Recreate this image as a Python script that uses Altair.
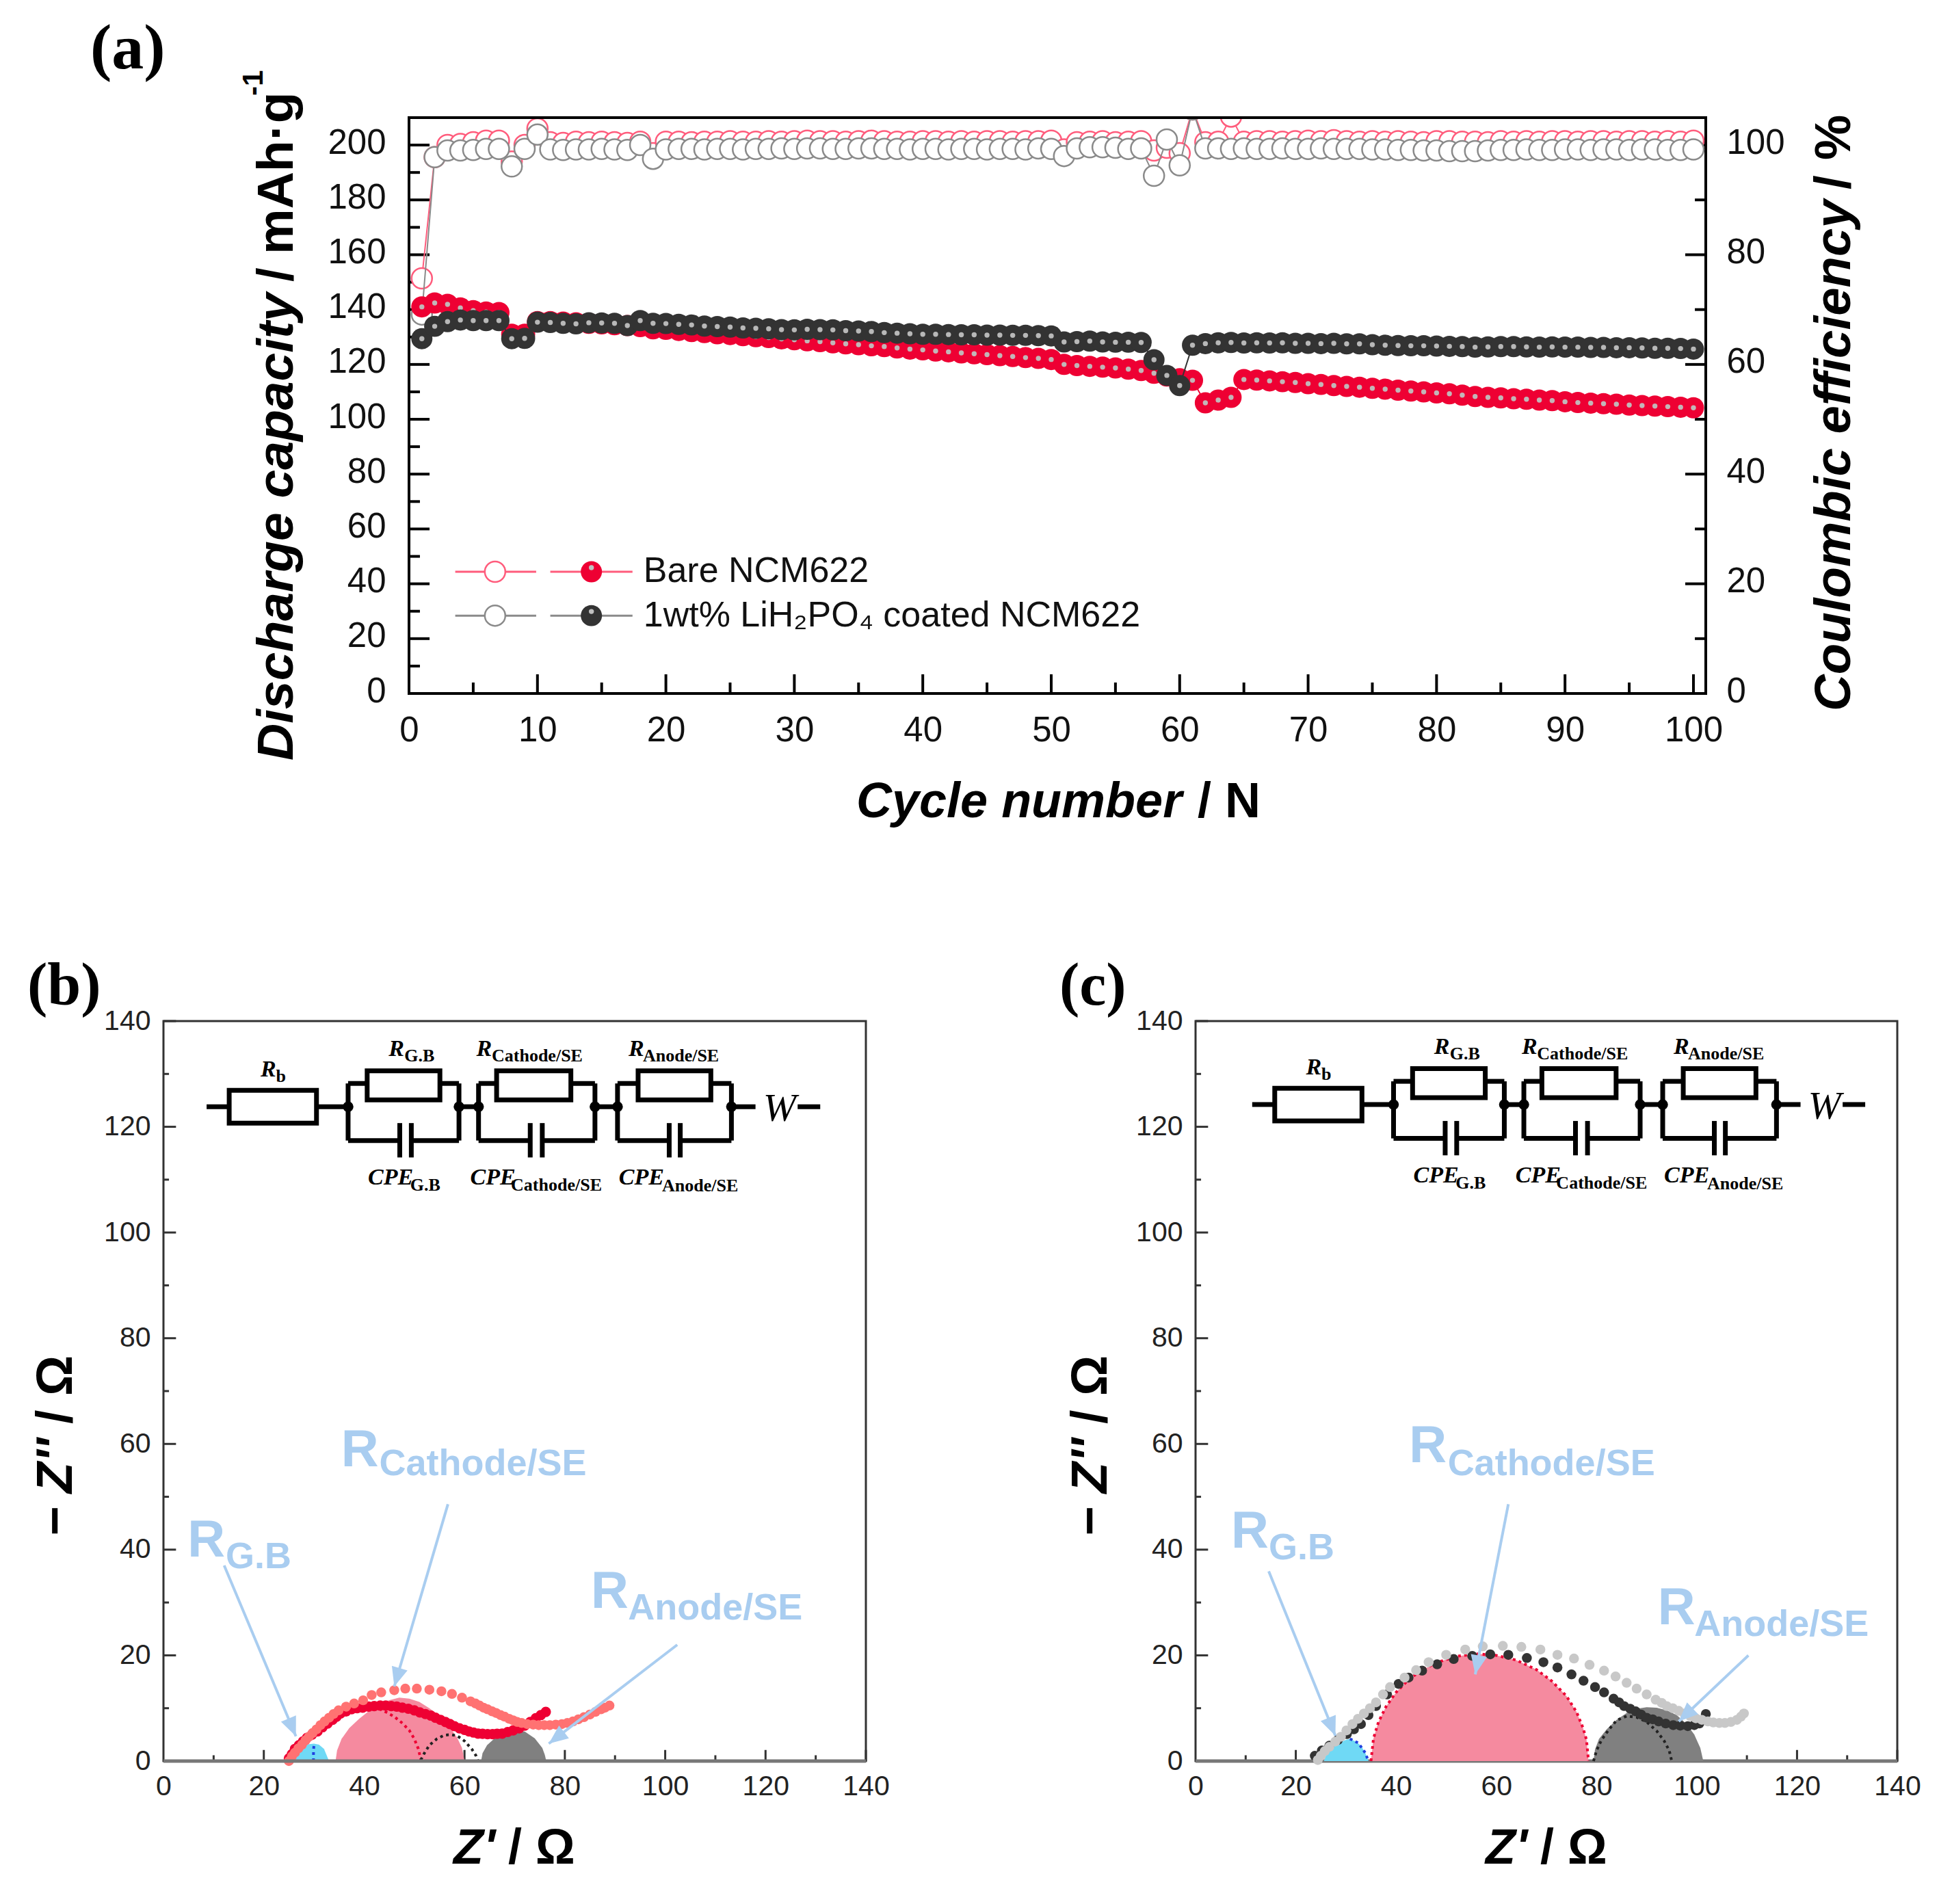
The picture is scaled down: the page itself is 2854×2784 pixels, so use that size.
import math
import altair as alt
import pandas as pd

W, H = 2838, 2768
M = 8

# ---------- panel (a) data ----------
cycle = list(range(1, 101))
cap_bare = [141, 142.4, 141.9, 140.6, 139.6, 139.1, 138.9, 131, 131, 135.6,
            135.6, 135.4, 135.2, 135, 134.8, 134.5, 134.2, 133.8, 133, 132.8,
            132.4, 132, 131.6, 131.2, 130.9, 130.5, 130.1, 129.8, 129.3, 129,
            128.6, 128.3, 127.9, 127.5, 127.2, 126.8, 126.5, 126, 125.6, 125.3,
            124.9, 124.6, 124.2, 123.9, 123.6, 123.2, 122.9, 122.5, 122.2, 121.8,
            120, 119.6, 119.3, 119, 118.7, 118.3, 117.8, 116.8, 115.8, 114.8,
            114.2, 106, 107, 108, 114.5, 114.3, 114, 113.7, 113.4, 113,
            112.7, 112.3, 112, 111.7, 111.3, 111, 110.6, 110.3, 110, 109.6,
            109.3, 108.8, 108.3, 108, 107.8, 107.5, 107.3, 107, 106.8, 106.4,
            106.1, 105.9, 105.7, 105.5, 105.2, 105, 104.8, 104.6, 104.4, 104.2]
cap_coated = [129.4, 133.9, 135.6, 136.2, 136, 136, 136, 129.4, 129.5, 135.4,
              135.3, 135, 134.8, 135.2, 135.1, 135, 134.2, 136, 135, 134.9,
              134.6, 134.4, 134, 133.8, 133.6, 133.3, 133.2, 133, 132.7, 132.6,
              132.8, 132.7, 132.6, 132.3, 132.2, 132, 131.6, 131.4, 131.2, 131,
              131, 130.9, 130.8, 130.8, 130.7, 130.7, 130.6, 130.6, 130.5, 130.4,
              128.2, 128.3, 128.5, 128.2, 128.1, 128.1, 128, 121.7, 116, 112.3,
              127, 127.6, 127.9, 128, 127.8, 127.9, 127.8, 127.9, 127.7, 127.7,
              127.6, 127.7, 127.5, 127.5, 127.2, 127, 126.9, 126.8, 126.8, 126.7,
              126.6, 126.5, 126.3, 126.4, 126.5, 126.5, 126.4, 126.3, 126.4, 126.3,
              126.3, 126.2, 126.2, 126.1, 126.1, 126, 125.9, 125.9, 125.8, 125.6]
ce_bare = [75.7, 97.8, 100.0, 100.2, 100.5, 100.8, 100.8, 97.0, 100.0, 103.0,
           100.5, 100.4, 100.6, 100.5, 100.6, 100.5, 100.4, 100.6, 98.5, 100.6,
           100.6, 100.5, 100.6, 100.6, 100.7, 100.6, 100.6, 100.7, 100.6, 100.7,
           100.8, 100.7, 100.7, 100.6, 100.7, 100.8, 100.7, 100.6, 100.6, 100.7,
           100.7, 100.6, 100.7, 100.6, 100.7, 100.7, 100.6, 100.7, 100.7, 100.8,
           99.2, 100.5, 100.6, 100.7, 100.5, 100.6, 100.7, 99.0, 99.5, 98.5,
           106.5, 100.5, 100.6, 105.2, 100.6, 100.7, 100.7, 100.6, 100.7, 100.8,
           100.7, 100.9, 100.7, 100.6, 100.7, 100.6, 100.7, 100.6, 100.5, 100.7,
           100.7, 100.6, 100.6, 100.5, 100.7, 100.6, 100.7, 100.6, 100.7, 100.7,
           100.6, 100.7, 100.7, 100.6, 100.7, 100.7, 100.6, 100.7, 100.6, 100.8]
ce_coated = [69.1, 97.8, 99.0, 99.0, 99.1, 99.3, 99.3, 96.1, 99.3, 101.9,
             99.2, 99.1, 99.2, 99.2, 99.3, 99.2, 99.1, 100.0, 97.5, 99.2,
             99.3, 99.3, 99.2, 99.3, 99.3, 99.2, 99.3, 99.3, 99.4, 99.3,
             99.4, 99.4, 99.3, 99.3, 99.4, 99.4, 99.3, 99.3, 99.2, 99.3,
             99.3, 99.2, 99.3, 99.3, 99.2, 99.3, 99.3, 99.2, 99.4, 99.3,
             98.0, 99.4, 99.6, 99.6, 99.5, 99.3, 99.4, 94.4, 101.0, 96.3,
             106.5, 99.4, 99.4, 99.3, 99.4, 99.3, 99.3, 99.4, 99.3, 99.3,
             99.4, 99.3, 99.3, 99.3, 99.2, 99.2, 99.1, 99.1, 99.0, 99.0,
             98.9, 98.9, 98.9, 99.0, 99.1, 99.1, 99.2, 99.1, 99.1, 99.2,
             99.2, 99.1, 99.2, 99.2, 99.1, 99.2, 99.2, 99.1, 99.1, 99.2]

# ---------- panel (b) data ----------
b_fresh_x = [25, 25.6, 26.2, 26.9, 27.6, 28.3, 29, 29.7, 30.5, 31.3, 32.1, 33, 33.9, 34.9, 36.4, 38, 39.8, 41.5, 43.4, 46, 48.2, 50.5, 53, 55.4, 57.5, 59.5, 61.2, 62.2, 63, 63.8, 64.6, 65.5, 66.3, 67.2, 68, 68.9, 69.7, 70.5, 71.4, 72.5, 73.7, 74.8, 75.9, 77, 78.2, 79.4, 80.5, 81.6, 82.7, 83.8, 85, 86.1, 87.2, 88, 88.9]
b_fresh_y = [0, .9, 1.6, 2.4, 3.1, 3.9, 4.6, 5.3, 6, 6.8, 7.5, 8.2, 8.9, 9.6, 10.3, 10.9, 11.5, 12.5, 13, 13.4, 13.7, 13.7, 13.5, 13.2, 12.7, 12, 11.3, 10.9, 10.5, 10.1, 9.8, 9.4, 9.1, 8.7, 8.4, 8, 7.7, 7.4, 7.2, 7, 6.9, 6.8, 6.8, 6.8, 6.9, 7, 7.2, 7.5, 7.9, 8.3, 8.8, 9.3, 9.8, 10.1, 10.5]
b_dark_x = [25, 25.6, 26.2, 27, 27.8, 28.6, 29.6, 30.7, 31.7, 32.7, 33.7, 34.5, 35.3, 36.4, 37.5, 38.6, 39.7, 40.9, 42, 43.2, 44.3, 45.4, 46.5, 47.6, 48.8, 50, 51.1, 52.2, 53.3, 54.2, 55.2, 56.2, 57.1, 58, 59, 60, 60.9, 61.8, 62.7, 63.6, 64.6, 65.6, 66.5, 67.5, 68.6, 69.7, 70.9, 72, 73.1, 74.2, 75.2, 76.2]
b_dark_y = [.5, 1.3, 2.3, 3, 3.7, 4.4, 5, 5.6, 6.4, 7.1, 7.8, 8.4, 9, 9.4, 9.8, 10, 10.1, 10.3, 10.4, 10.5, 10.5, 10.4, 10.3, 10.1, 9.9, 9.6, 9.2, 8.9, 8.6, 8.2, 7.8, 7.4, 7, 6.6, 6.2, 5.9, 5.6, 5.4, 5.2, 5.15, 5.1, 5.1, 5.15, 5.2, 5.5, 5.8, 6.2, 6.7, 7.4, 8.1, 8.7, 9.3]
b_cyan_x = [24.5, 25, 26, 27, 28, 29, 30, 31, 32, 33]
b_cyan_y = [0, 1.2, 2, 2.6, 3, 3.2, 3.3, 3.1, 2.3, 0]
b_pink_x = [34.3, 34.6, 35.5, 37, 39, 41, 43, 45, 47, 49, 51, 53, 55, 57, 58.5, 59.5, 60]
b_pink_y = [0, 2, 4.2, 6.2, 8, 9.5, 10.6, 11.5, 12, 11.8, 11.2, 10, 8.6, 6.5, 4.5, 2.5, 0]
b_gray_x = [63.3, 63.6, 64.5, 66, 68, 70, 72, 74, 75.5, 76, 76.3]
b_gray_y = [0, 1.5, 3, 4.3, 5.4, 5.9, 5.6, 4.3, 2.5, 1.2, 0]
b_red_dot_x = [43, 44.3, 46, 47.7, 49, 50, 50.8, 51.3]
b_red_dot_y = [9.9, 9.3, 8.4, 7.1, 5.8, 4.2, 2.3, 0.3]
b_blk_dot_x = [51.3, 52, 53, 54.5, 56, 57.3, 58.5, 60, 61.5, 62.3, 62.7]
b_blk_dot_y = [0.2, 1.5, 3, 4.2, 4.9, 5, 4.8, 3.8, 2.2, 1, 0]
b_blu_dot_x = [29.9, 29.9, 29.9, 30]
b_blu_dot_y = [0, 1, 2, 3]

# ---------- panel (c) data ----------
c_fresh_x = [24.4, 25, 25.8, 26.7, 27.9, 29, 30.1, 31.3, 32.4, 33.6, 34.8, 36, 37.4, 38.8, 41.7, 44, 46.5, 50, 53.8, 57.3, 61.3, 65, 68.8, 72.2, 75.5, 78.6, 81.5, 83.8, 86, 88, 90, 91.8, 93, 94, 95.2, 96.4, 97.5, 98.7, 99.8, 101, 102.2, 103.3, 104.5, 105.6, 106.8, 108, 108.8, 109.4]
c_fresh_y = [.2, 1, 1.9, 2.7, 3.7, 4.6, 5.8, 7, 8, 9, 10, 11.1, 12.6, 14, 15.8, 17.2, 18.7, 20.1, 21.1, 21.7, 21.8, 21.6, 21.1, 20.1, 19.4, 18.2, 17.1, 16, 14.8, 13.7, 12.6, 11.6, 11, 10.4, 10, 9.5, 9, 8.5, 8.1, 7.8, 7.5, 7.3, 7.2, 7.2, 7.4, 7.8, 8.4, 9]
c_dark_x = [23.8, 25.2, 26.7, 28.4, 30.2, 31.6, 33, 34.5, 36, 38.2, 40.5, 42.5, 45.2, 48.2, 51.5, 55.2, 58.8, 62.4, 66.1, 69.4, 72.2, 75, 77.4, 79.7, 81.5, 83.4, 84.5, 85.5, 86.7, 87.8, 88.9, 90, 91.2, 92.4, 93.8, 95.3, 96.7, 98.2, 99.5, 100.5, 101.8]
c_dark_y = [1, 2, 2.9, 4, 5.1, 6, 7, 8.7, 10.4, 12.6, 14.6, 15.8, 17.1, 18.3, 19.3, 19.9, 20.2, 20.1, 19.5, 18.7, 17.7, 16.4, 15.2, 14, 13, 11.8, 11.1, 10.4, 9.9, 9.4, 8.8, 8.2, 7.9, 7.5, 7.1, 6.8, 6.7, 6.6, 6.8, 7.1, 8.9]
c_cyan_x = [25.6, 26, 27, 28, 29, 30, 30.8, 32, 33, 33.9, 34.5]
c_cyan_y = [0, 1, 2.2, 3, 3.6, 4, 4.2, 3.7, 2.9, 1.5, 0]
c_pink_x = [35, 35.5, 36.5, 38, 40, 42.5, 45, 48, 52, 56, 60, 64, 68, 71, 74, 76, 77.3, 78, 78.4]
c_pink_y = [0, 4.3, 7.4, 10.3, 13, 15.4, 17.1, 18.6, 19.8, 20.3, 20, 19.1, 17.3, 15.2, 12.3, 9.3, 6.3, 4, 0]
c_gray_x = [79.4, 79.7, 80.5, 82, 84, 86, 88, 90, 92, 94, 96, 98, 99.5, 100.7, 101.3]
c_gray_y = [0, 2.2, 4.2, 6, 7.8, 9.1, 9.9, 10.2, 10.1, 9.6, 8.7, 7, 5, 2.5, 0]
c_blu_dot_x = [30.8, 32.5, 33.9, 34.4]
c_blu_dot_y = [4.2, 3.4, 1.5, 0.2]
c_blk_dot_x = [79.4, 80, 81, 82.5, 84, 86, 88, 90, 92, 93.5, 94.5, 95]
c_blk_dot_y = [0, 2, 4, 6, 7.7, 8.5, 8.3, 7.4, 5.7, 3.8, 2, 0]

RED, DARK, OPEN_RED, OPEN_GRAY = "#ee0033", "#333333", "#ff5c7c", "#8a8a8a"
SALMON, LGRAY = "#ff7272", "#c8c8c8"
CYAN, PINK, MGRAY = "#6fd9f5", "#f58a9f", "#808080"
ABLUE = "#a9cdf0"
SPOT = "#c0c0c0"
SANS, SERIF = "Liberation Sans", "Liberation Serif"


class P:
    def __init__(s, xd, xr, yd, yr):
        s.xd, s.xr, s.yd, s.yr = xd, [v - M for v in xr], yd, [v - M for v in yr]

    def sx(s):
        return alt.Scale(domain=s.xd, range=s.xr, nice=False, zero=False)

    def sy(s, yd=None):
        return alt.Scale(domain=yd or s.yd, range=s.yr, nice=False, zero=False)

    def X(s, f="x", axis=None):
        return alt.X(f + ":Q", scale=s.sx(), axis=axis)

    def Y(s, f="y", axis=None, yd=None):
        return alt.Y(f + ":Q", scale=s.sy(yd), axis=axis)

    def px(s, x):
        return s.xr[0] + (x - s.xd[0]) / (s.xd[1] - s.xd[0]) * (s.xr[1] - s.xr[0])

    def py(s, y):
        return s.yr[0] + (y - s.yd[0]) / (s.yd[1] - s.yd[0]) * (s.yr[1] - s.yr[0])


PA = P([0, 100.96], [598, 2494], [0, 210], [1014, 172])
PB = P([0, 140], [239, 1266], [0, 140], [2575, 1493])
PC = P([0, 140], [1748, 2774], [0, 140], [2575, 1493])
RIGHT_DOM = [0, 105]

layers = []


def axis_x(p, vals, size, pad, color="#111111"):
    return alt.Axis(values=vals, orient="bottom", offset=p.yr[0] - H, title=None, grid=False, domain=False,
                    ticks=False, labelFont=SANS, labelFontSize=size, labelPadding=pad, labelColor=color,
                    labelFlush=False, labelOverlap=False, format="d")


def axis_y(p, vals, size, pad, orient="left", color="#111111", loff=0):
    off = -p.xr[0] if orient == "left" else p.xr[1] - W
    return alt.Axis(values=vals, orient=orient, offset=off, title=None, grid=False, domain=False, ticks=False,
                    labelFont=SANS, labelFontSize=size, labelPadding=pad, labelColor=color, labelFlush=False,
                    labelOverlap=False, format="d", labelOffset=loff)


def frame(p, stroke, sw, x_vals, y_vals, size, xpad, ypad, color="#111111", loff=0):
    df = pd.DataFrame({"x": [p.xd[0]], "x2": [p.xd[1]], "y": [p.yd[0]], "y2": [p.yd[1]]})
    return alt.Chart(df).mark_rect(fillOpacity=0, stroke=stroke, strokeWidth=sw).encode(
        x=p.X("x", axis_x(p, x_vals, size, xpad, color)), x2="x2:Q",
        y=p.Y("y", axis_y(p, y_vals, size, ypad, "left", color, loff)), y2="y2:Q")


def xticks(p, vals, length, sw, color="black"):
    df = pd.DataFrame({"x": vals, "y": [p.yd[0]] * len(vals), "y2": [p.yd[0] + length] * len(vals)})
    return alt.Chart(df).mark_rule(color=color, strokeWidth=sw).encode(x=p.X(), y=p.Y(), y2="y2:Q")


def yticks(p, vals, length, sw, side="left", color="black", yd=None):
    x0 = p.xd[0] if side == "left" else p.xd[1]
    x1 = x0 + length if side == "left" else x0 - length
    df = pd.DataFrame({"x": [x0] * len(vals), "x2": [x1] * len(vals), "y": vals})
    return alt.Chart(df).mark_rule(color=color, strokeWidth=sw).encode(x=p.X(), x2="x2:Q", y=p.Y(yd=yd))


def label(text, xpx, ypx, size, color="black", italic=False, bold=False, angle=0, font=SANS, align="left"):
    kw = dict(fontSize=size, color=color, font=font, align=align, baseline="alphabetic",
              fontStyle="italic" if italic else "normal", fontWeight="bold" if bold else "normal")
    if angle:
        kw["angle"] = angle
    return alt.Chart(pd.DataFrame({"t": [text]})).mark_text(**kw).encode(
        x=alt.value(xpx - M), y=alt.value(ypx - M), text="t:N")


def dlabel(p, text, x, y, size, **kw):
    return label(text, p.px(x) + M, p.py(y) + M, size, **kw)


def area(p, xs, ys, color, opacity=1):
    df = pd.DataFrame({"x": xs, "y": ys})
    return alt.Chart(df).mark_area(color=color, opacity=opacity, line=False).encode(
        x=p.X(), y=p.Y(), y2=alt.datum(0))


def dotted(p, xs, ys, color):
    df = pd.DataFrame({"x": xs, "y": ys})
    return alt.Chart(df).mark_line(color=color, strokeWidth=4, strokeDash=[4, 5]).encode(x=p.X(), y=p.Y())


def pts(p, xs, ys, color, size=180):
    df = pd.DataFrame({"x": xs, "y": ys})
    return alt.Chart(df).mark_point(filled=True, color=color, size=size, opacity=1, shape="circle").encode(
        x=p.X(), y=p.Y())


def arrow(p, x0, y0, x1, y1):
    df = pd.DataFrame({"x": [x0], "x2": [x1], "y": [y0], "y2": [y1]})
    line = alt.Chart(df).mark_rule(color=ABLUE, strokeWidth=4).encode(x=p.X(), x2="x2:Q", y=p.Y(), y2="y2:Q")
    dx, dy = p.px(x1) - p.px(x0), p.py(y1) - p.py(y0)
    ang = math.degrees(math.atan2(dx, -dy)) % 360
    head = alt.Chart(pd.DataFrame({"x": [x1], "y": [y1]})).mark_point(
        filled=True, color=ABLUE, opacity=1, size=784, angle=ang,
        shape="M0,0L0.85,2L-0.85,2Z").encode(x=p.X(), y=p.Y())
    return [line, head]


def circuit(p, dx, dy):
    out = []
    box_rows = [(13.1, 30.5, 120.7, 126.9), (40.6, 55.1, 125.1, 130.6), (66.4, 81.2, 125.1, 130.6), (94.6, 109.1, 125.1, 130.6)]
    df = pd.DataFrame(box_rows, columns=["x", "x2", "y", "y2"])
    df[["x", "x2"]] += dx
    df[["y", "y2"]] += dy
    out.append(alt.Chart(df).mark_rect(fillOpacity=0, stroke="black", strokeWidth=7).encode(
        x=p.X(), x2="x2:Q", y=p.Y(), y2="y2:Q"))
    segs = [(8.6, 123.8, 13.1, 123.8), (30.5, 123.8, 36.8, 123.8), (58.9, 123.8, 62.8, 123.8),
            (86, 123.8, 90.5, 123.8), (113.2, 123.8, 118, 123.8), (126.4, 123.8, 130.9, 123.8)]
    for a, b, r0, r1, c0, c1 in [(36.8, 58.9, 40.6, 55.1, 47.1, 49.4), (62.8, 86, 66.4, 81.2, 73.1, 75.5),
                                 (90.5, 113.2, 94.6, 109.1, 100.8, 103)]:
        segs += [(a, 117.4, a, 128.2), (b, 117.4, b, 128.2), (a, 128.2, r0, 128.2), (r1, 128.2, b, 128.2),
                 (a, 117.4, c0, 117.4), (c1, 117.4, b, 117.4), (c0, 114.2, c0, 120.7), (c1, 114.2, c1, 120.7)]
    df = pd.DataFrame(segs, columns=["x", "y", "x2", "y2"])
    df[["x", "x2"]] += dx
    df[["y", "y2"]] += dy
    out.append(alt.Chart(df).mark_rule(color="black", strokeWidth=7).encode(x=p.X(), x2="x2:Q", y=p.Y(), y2="y2:Q"))
    nodes = pd.DataFrame({"x": [36.8 + dx, 58.9 + dx, 62.8 + dx, 86 + dx, 90.5 + dx, 113.2 + dx], "y": [123.8 + dy] * 6})
    out.append(alt.Chart(nodes).mark_point(filled=True, color="black", opacity=1, size=240, shape="circle").encode(x=p.X(), y=p.Y()))
    z = lambda zx: (zx / 1.425 - 39) / 7.34 + dx
    w = lambda zy: (1125 - zy / 3) / 7.72 + dy
    for t, zx, zy, sub, szx, szy in [
        ("R", 258, 375, "b", 290, 400), ("R", 525, 285, "G.B", 558, 310),
        ("R", 708, 285, "Cathode/SE", 740, 310), ("R", 1025, 285, "Anode/SE", 1055, 310),
        ("CPE", 482, 850, "G.B", 570, 875), ("CPE", 695, 850, "Cathode/SE", 780, 875),
        ("CPE", 1005, 850, "Anode/SE", 1095, 880)]:
        out.append(dlabel(p, t, z(zx), w(zy), 34, italic=True, bold=True, font=SERIF))
        out.append(dlabel(p, sub, z(szx), w(szy), 26, bold=True, font=SERIF))
    out.append(dlabel(p, "W", 122.8 + dx, 121.1 + dy, 58, italic=True, font=SERIF, align="center"))
    return out


# ---------- panel (a) ----------
layers.append(frame(PA, "black", 4, list(range(0, 101, 10)), list(range(0, 201, 20)), 51, 29, 34, loff=-3))
layers.append(xticks(PA, list(range(10, 101, 10)), 7, 4))
layers.append(xticks(PA, list(range(5, 96, 10)), 4, 4))
layers.append(yticks(PA, list(range(20, 201, 20)), 1.6, 4))
layers.append(yticks(PA, list(range(10, 201, 20)), 0.85, 4))
rdf = pd.DataFrame({"x": [PA.xd[1]] * 6, "x2": [PA.xd[1] - 1.6] * 6, "y": list(range(0, 101, 20))})
layers.append(alt.Chart(rdf).mark_rule(color="black", strokeWidth=4).encode(
    x=PA.X(), x2="x2:Q",
    y=PA.Y(axis=axis_y(PA, list(range(0, 101, 20)), 51, 30, "right", loff=-3), yd=RIGHT_DOM)))
layers.append(yticks(PA, list(range(10, 101, 20)), 0.85, 4, side="right", yd=RIGHT_DOM))

for values, col in [(ce_bare, OPEN_RED), (ce_coated, OPEN_GRAY)]:
    df = pd.DataFrame({"x": cycle, "y": values})
    layers.append(alt.Chart(df).mark_line(color=col, strokeWidth=2).encode(x=PA.X(), y=PA.Y(yd=RIGHT_DOM)))
    layers.append(alt.Chart(df).mark_point(shape="circle", size=900, fill="white", fillOpacity=1, stroke=col, strokeWidth=2.5, opacity=1).encode(
        x=PA.X(), y=PA.Y(yd=RIGHT_DOM)))
# mask above the frame: points past the axis top are cut off there
mask = pd.DataFrame({"x": [PA.xd[0]], "x2": [PA.xd[1] + 1], "y": [210.5], "y2": [225]})
layers.append(alt.Chart(mask).mark_rect(color="white").encode(x=PA.X(), x2="x2:Q", y=PA.Y(), y2="y2:Q"))
layers.append(alt.Chart(pd.DataFrame({"x": [PA.xd[0]], "x2": [PA.xd[1]], "y": [210]})).mark_rule(color="black", strokeWidth=4).encode(
    x=PA.X(), x2="x2:Q", y=PA.Y()))
for values, col in [(cap_bare, RED), (cap_coated, DARK)]:
    df = pd.DataFrame({"x": cycle, "y": values})
    layers.append(alt.Chart(df).mark_line(color=col, strokeWidth=2).encode(x=PA.X(), y=PA.Y()))
    layers.append(pts(PA, cycle, values, col, size=960))
    layers.append(alt.Chart(df).mark_point(filled=True, color=SPOT, size=55, shape="circle", opacity=0.95).encode(x=PA.X(), y=PA.Y()))

# legend
for ly, oc, fc in [(44.4, OPEN_RED, RED), (28.4, OPEN_GRAY, DARK)]:
    seg = pd.DataFrame({"x": [3.6, 11.0], "x2": [9.9, 17.4], "y": [ly, ly]})
    layers.append(alt.Chart(seg).mark_rule(color=oc, strokeWidth=3).encode(x=PA.X(), x2="x2:Q", y=PA.Y()))
    layers.append(alt.Chart(pd.DataFrame({"x": [6.7], "y": [ly]})).mark_point(
        shape="circle", size=900, fill="white", fillOpacity=1, stroke=oc, strokeWidth=2.5, opacity=1).encode(x=PA.X(), y=PA.Y()))
    layers.append(pts(PA, [14.2], [ly], fc, size=960))
    layers.append(pts(PA, [14.2], [ly + 1.5], SPOT, size=55))
layers.append(dlabel(PA, "Bare NCM622", 18.25, 40.6, 52, color="#111111"))
layers.append(dlabel(PA, "1wt% LiH₂PO₄ coated NCM622", 18.25, 24.4, 52, color="#111111"))

layers.append(label("(a)", 132, 100, 94, bold=True, font=SERIF))
layers.append(label("Discharge capacity", 428, 1112, 75, italic=True, bold=True, angle=270))
layers.append(label("/", 428, 412, 75, bold=True, angle=270))
layers.append(label("mAh·g", 428, 372, 75, bold=True, angle=270))
layers.append(label("-1", 384, 140, 42, bold=True, angle=270))
layers.append(label("Coulombic efficiency", 2705, 1040, 74.5, italic=True, bold=True, angle=270))
layers.append(label("/", 2705, 277, 74.5, bold=True, angle=270))
layers.append(label("%", 2705, 234, 74.5, bold=True, angle=270))
layers.append(label("Cycle number", 1252, 1195, 72, italic=True, bold=True))
layers.append(label("/ N", 1751, 1195, 72, bold=True))

# ---------- panels (b), (c) ----------
for p, panel, flabel, fx, tx, dx, dy in [(PB, "(b)", 40, 105, 663, 0, 0), (PC, "(c)", 1549, 1618, 2172, 2.7, 0.4)]:
    layers.append(frame(p, "#333333", 3, list(range(0, 141, 20)), list(range(0, 141, 20)), 41, 17, 19, "#222222"))
    layers.append(xticks(p, list(range(20, 141, 20)), 2.1, 3, "#333333"))
    layers.append(xticks(p, list(range(10, 131, 20)), 1.1, 3, "#333333"))
    layers.append(yticks(p, list(range(20, 141, 20)), 2.5, 3, color="#333333"))
    layers.append(yticks(p, list(range(10, 131, 20)), 1.1, 3, color="#333333"))
    layers.extend(circuit(p, dx, dy))
    layers.append(label(panel, flabel, 1469, 88, bold=True, font=SERIF))
    layers.append(label("− Z''", fx, 2247, 74, italic=True, bold=True, angle=270))
    layers.append(label("/ Ω", fx, 2082, 74, bold=True, angle=270))
    layers.append(label("Z'", tx, 2725, 72, italic=True, bold=True))
    layers.append(label("/ Ω", tx + 80, 2725, 72, bold=True))

# panel (b) content
layers += [area(PB, b_cyan_x, b_cyan_y, CYAN), area(PB, b_pink_x, b_pink_y, PINK), area(PB, b_gray_x, b_gray_y, MGRAY)]
layers += [dotted(PB, b_red_dot_x, b_red_dot_y, RED), dotted(PB, b_blk_dot_x, b_blk_dot_y, "#222222"),
           dotted(PB, b_blu_dot_x, b_blu_dot_y, "#2040e0")]
layers += [pts(PB, b_dark_x, b_dark_y, RED, 230), pts(PB, b_fresh_x, b_fresh_y, SALMON, 210)]
base0 = pd.DataFrame({"x": [0], "x2": [140], "y": [0]})
for p in (PB, PC):
    layers.append(alt.Chart(base0).mark_rule(color="#777777", strokeWidth=5).encode(x=p.X(), x2="x2:Q", y=p.Y()))
layers += arrow(PB, 12.1, 37, 26.4, 4.7) + arrow(PB, 56.7, 48.6, 46, 14.1) + arrow(PB, 102.4, 22, 76.8, 3.3)
for rx, ry, sx_, sy_, sub in [(4.8, 38.7, 12.4, 36.5, "G.B"), (35.4, 55.8, 43, 54.1, "Cathode/SE"), (85.2, 29, 92.6, 26.8, "Anode/SE")]:
    layers.append(dlabel(PB, "R", rx, ry, 76, color=ABLUE, bold=True))
    layers.append(dlabel(PB, sub, sx_, sy_, 54, color=ABLUE, bold=True))

# panel (c) content
layers += [area(PC, c_cyan_x, c_cyan_y, CYAN), area(PC, c_pink_x, c_pink_y, PINK), area(PC, c_gray_x, c_gray_y, MGRAY)]
layers += [dotted(PC, c_pink_x, c_pink_y, RED), dotted(PC, c_blu_dot_x, c_blu_dot_y, "#2040e0"),
           dotted(PC, c_blk_dot_x, c_blk_dot_y, "#222222")]
layers += [pts(PC, c_dark_x, c_dark_y, DARK, 210), pts(PC, c_fresh_x, c_fresh_y, LGRAY, 210)]
layers += arrow(PC, 14.6, 35.9, 27.9, 4.8) + arrow(PC, 62.4, 48.6, 55.8, 16.4) + arrow(PC, 110.3, 20, 96.4, 7.5)
for rx, ry, sx_, sy_, sub in [(7.1, 40.4, 14.6, 38.2, "G.B"), (42.6, 56.6, 50.3, 54.1, "Cathode/SE"), (92.2, 25.9, 99.5, 23.7, "Anode/SE")]:
    layers.append(dlabel(PC, "R", rx, ry, 76, color=ABLUE, bold=True))
    layers.append(dlabel(PC, sub, sx_, sy_, 54, color=ABLUE, bold=True))

chart = alt.layer(*layers).resolve_scale(x="independent", y="independent").properties(
    width=W, height=H, padding=0, background="white",
    autosize=alt.AutoSizeParams(type="none")
).configure_view(stroke=None)

chart.save("out.html", embed_options={"renderer": "svg", "actions": False})
